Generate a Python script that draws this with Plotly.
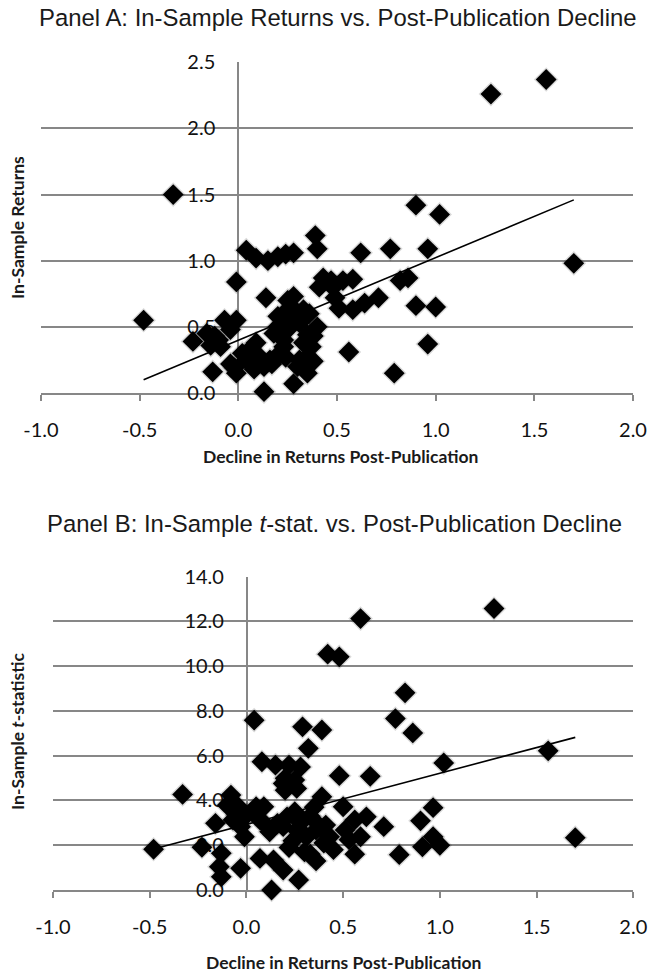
import plotly.graph_objects as go

# ---------------- Panel A data ----------------
decline_a = [1.56, 1.28, 0.90, 1.02, 1.70, -0.33, 0.39, 0.40, 0.62, 0.77,
             0.96, -0.48, -0.01, 0.04, 0.09, 0.15, 0.20, 0.24, 0.28, 0.43,
             0.41, 0.47, 0.48, 0.53, 0.58, 0.49, 0.51, 0.58, 0.64, 0.71,
             0.82, 0.86, 0.90, 1.00, 0.56, 0.96, 0.79, 0.14, -0.23, -0.16,
             -0.07, -0.01, -0.12, -0.09, -0.14, -0.04, -0.13, -0.02, -0.04, -0.01,
             0.13, 0.06, 0.09, 0.11, 0.04, 0.16, 0.13, 0.20, 0.23, 0.23,
             0.25, 0.28, 0.26, 0.30, 0.25, 0.31, 0.40, 0.38, 0.37, 0.35,
             0.38, 0.31, 0.30, 0.28, 0.23, 0.21, 0.33, 0.35, 0.18, 0.20,
             0.27, 0.17, 0.33, 0.22, 0.35, -0.10, 0.02, 0.08, 0.24, 0.36]
returns_a = [2.37, 2.26, 1.42, 1.35, 0.98, 1.50, 1.19, 1.09, 1.06, 1.09,
             1.09, 0.55, 0.84, 1.08, 1.02, 1.00, 1.03, 1.05, 1.06, 0.87,
             0.80, 0.85, 0.80, 0.85, 0.86, 0.72, 0.64, 0.63, 0.68, 0.72,
             0.85, 0.87, 0.66, 0.65, 0.31, 0.37, 0.15, 0.72, 0.39, 0.45,
             0.55, 0.55, 0.43, 0.35, 0.36, 0.48, 0.16, 0.19, 0.22, 0.15,
             0.01, 0.33, 0.38, 0.27, 0.25, 0.25, 0.20, 0.50, 0.60, 0.40,
             0.70, 0.73, 0.55, 0.60, 0.48, 0.53, 0.50, 0.43, 0.35, 0.27,
             0.24, 0.25, 0.20, 0.07, 0.35, 0.30, 0.38, 0.44, 0.45, 0.58,
             0.65, 0.22, 0.63, 0.52, 0.15, 0.40, 0.30, 0.18, 0.27, 0.60]
trend_a_x = [-0.48, 1.70]
trend_a_y = [0.10, 1.46]

# ---------------- Panel B data ----------------
decline_b = [1.28, 0.59, 0.42, 0.48, 0.82, 0.77, 0.86, 1.56, 1.02, 0.48,
             0.64, 1.70, 0.50, 0.965, 0.90, 0.71, 0.79, 0.91, 0.965, 1.00,
             0.56, 0.56, 0.62, 0.53, 0.59, 0.33, 0.40, 0.36, 0.39, 0.35,
             0.29, 0.39, 0.32, 0.22, 0.28, 0.20, 0.25, 0.20, 0.26, 0.21,
             0.19, 0.26, 0.31, 0.38, 0.43, 0.27, 0.19, 0.51, 0.04, -0.48,
             -0.33, -0.23, -0.16, -0.13, -0.14, -0.13, -0.03, 0.13, 0.07, 0.14,
             0.08, 0.15, -0.08, -0.05, -0.02, -0.07, -0.03, -0.01, 0.00, 0.05,
             0.09, 0.07, 0.10, 0.16, -0.05, -0.10, 0.24, 0.28, 0.33, 0.22,
             0.36, 0.30, 0.19, 0.12, 0.25, 0.45, 0.41]
tstat_b = [12.58, 12.13, 10.54, 10.42, 8.81, 7.66, 7.02, 6.22, 5.68, 5.11,
           5.08, 2.34, 3.72, 3.68, 3.09, 2.83, 1.58, 1.93, 2.38, 2.00,
           1.60, 3.13, 3.27, 2.25, 2.38, 1.60, 2.10, 2.68, 4.17, 3.70,
           7.29, 7.15, 6.33, 5.58, 5.50, 4.99, 4.91, 4.46, 4.54, 3.27,
           2.83, 2.68, 2.38, 2.83, 2.38, 0.45, 0.89, 2.68, 7.59, 1.82,
           4.27, 1.91, 2.98, 1.64, 1.04, 0.59, 0.97, 0.00, 1.41, 1.34,
           5.73, 5.58, 4.24, 3.79, 3.42, 3.13, 2.83, 2.38, 3.35, 3.72,
           3.72, 3.13, 2.90, 2.98, 3.35, 3.79, 2.20, 3.00, 3.30, 1.90,
           1.30, 1.70, 4.76, 2.60, 3.50, 1.80, 2.90]
trend_b_x = [-0.48, 1.70]
trend_b_y = [1.83, 6.82]

x_ticks = [-1.0, -0.5, 0.0, 0.5, 1.0, 1.5, 2.0]
x_ticktext = ["-1.0", "-0.5", "0.0", "0.5", "1.0", "1.5", "2.0"]
y_ticks_a = [0.0, 0.5, 1.0, 1.5, 2.0, 2.5]
y_ticks_b = [0.0, 2.0, 4.0, 6.0, 8.0, 10.0, 12.0, 14.0]

GRID = "#878787"
TICKFONT = dict(family="Lato, Carlito, sans-serif", size=20, color="#111")
W, H = 650, 974


def px_x(p):
    return p / W


def px_y(p):
    return 1 - p / H


fig = go.Figure()

for xs, ys, xa, ya in [(decline_a, returns_a, "x", "y"), (decline_b, tstat_b, "x2", "y2")]:
    # soft shadow
    fig.add_trace(go.Scatter(x=xs, y=ys, mode="markers", xaxis=xa, yaxis=ya,
                             marker=dict(symbol="diamond", size=19, color="rgba(0,0,0,0.15)",
                                         line=dict(width=0)),
                             cliponaxis=False, hoverinfo="skip", showlegend=False))
    fig.add_trace(go.Scatter(x=xs, y=ys, mode="markers", xaxis=xa, yaxis=ya,
                             marker=dict(symbol="diamond", size=16, color="black",
                                         line=dict(width=0)),
                             cliponaxis=False, showlegend=False))

fig.add_trace(go.Scatter(x=trend_a_x, y=trend_a_y, mode="lines", xaxis="x", yaxis="y",
                         line=dict(color="black", width=1.6), showlegend=False))
fig.add_trace(go.Scatter(x=trend_b_x, y=trend_b_y, mode="lines", xaxis="x2", yaxis="y2",
                         line=dict(color="black", width=1.6), showlegend=False))

xcommon = dict(range=[-1, 2], tickvals=x_ticks, ticktext=x_ticktext, showgrid=False,
               zeroline=False, showline=True, linecolor=GRID, linewidth=1.5,
               ticks="outside", ticklen=6, tickwidth=1.5, tickcolor=GRID,
               tickfont=TICKFONT, ticklabelstandoff=12, layer="below traces",
               fixedrange=True, automargin=False)
ycommon = dict(tickformat=".1f", showgrid=True, gridcolor=GRID, gridwidth=1.5,
               zeroline=False, showline=True, linecolor=GRID, linewidth=1.5,
               ticks="", tickfont=TICKFONT, ticklabelstandoff=18,
               layer="below traces", anchor="free", fixedrange=True,
               automargin=False)

fig.update_layout(
    width=W, height=H,
    margin=dict(l=0, r=0, t=0, b=0, pad=0, autoexpand=False),
    paper_bgcolor="white", plot_bgcolor="white",
    xaxis=dict(domain=[px_x(41), px_x(633)], anchor="y", **xcommon),
    yaxis=dict(domain=[px_y(393), px_y(62.3)], range=[0, 2.5], tickvals=y_ticks_a,
               position=px_x(238), **ycommon),
    xaxis2=dict(domain=[px_x(53), px_x(633.3)], anchor="y2", **xcommon),
    yaxis2=dict(domain=[px_y(890), px_y(576.7)], range=[0, 14], tickvals=y_ticks_b,
                position=px_x(246.7), **ycommon),
    showlegend=False,
)

TITLEFONT = dict(family="Liberation Sans, Arial, sans-serif", size=23.9, color="#1a1a1a")
AXTITLEFONT = dict(family="Lato, Carlito, sans-serif", size=17.5, color="#1a1a1a")

annots = [
    dict(text="Panel A: In-Sample Returns vs. Post-Publication Decline",
         x=px_x(338), y=px_y(17), font=TITLEFONT),
    dict(text="Panel B: In-Sample <i>t</i>-stat. vs. Post-Publication Decline",
         x=px_x(335), y=px_y(523), font=TITLEFONT),
    dict(text="<b>Decline in Returns Post-Publication</b>",
         x=px_x(340), y=px_y(456), font=AXTITLEFONT),
    dict(text="<b>Decline in Returns Post-Publication</b>",
         x=px_x(343), y=px_y(962), font=AXTITLEFONT),
    dict(text="<b>In-Sample Returns</b>", textangle=-90,
         x=px_x(17), y=px_y(228), font=AXTITLEFONT),
    dict(text="<b>In-Sample <i>t</i>-statistic</b>", textangle=-90,
         x=px_x(17), y=px_y(732), font=AXTITLEFONT),
]
for a in annots:
    fig.add_annotation(xref="paper", yref="paper", showarrow=False,
                       xanchor="center", yanchor="middle", **a)

fig.write_html(
    "out.html",
    config={"displayModeBar": False, "staticPlot": False},
    post_script="document.body.style.margin='0';document.body.style.overflow='hidden';"
                "document.documentElement.style.overflow='hidden';",
)
